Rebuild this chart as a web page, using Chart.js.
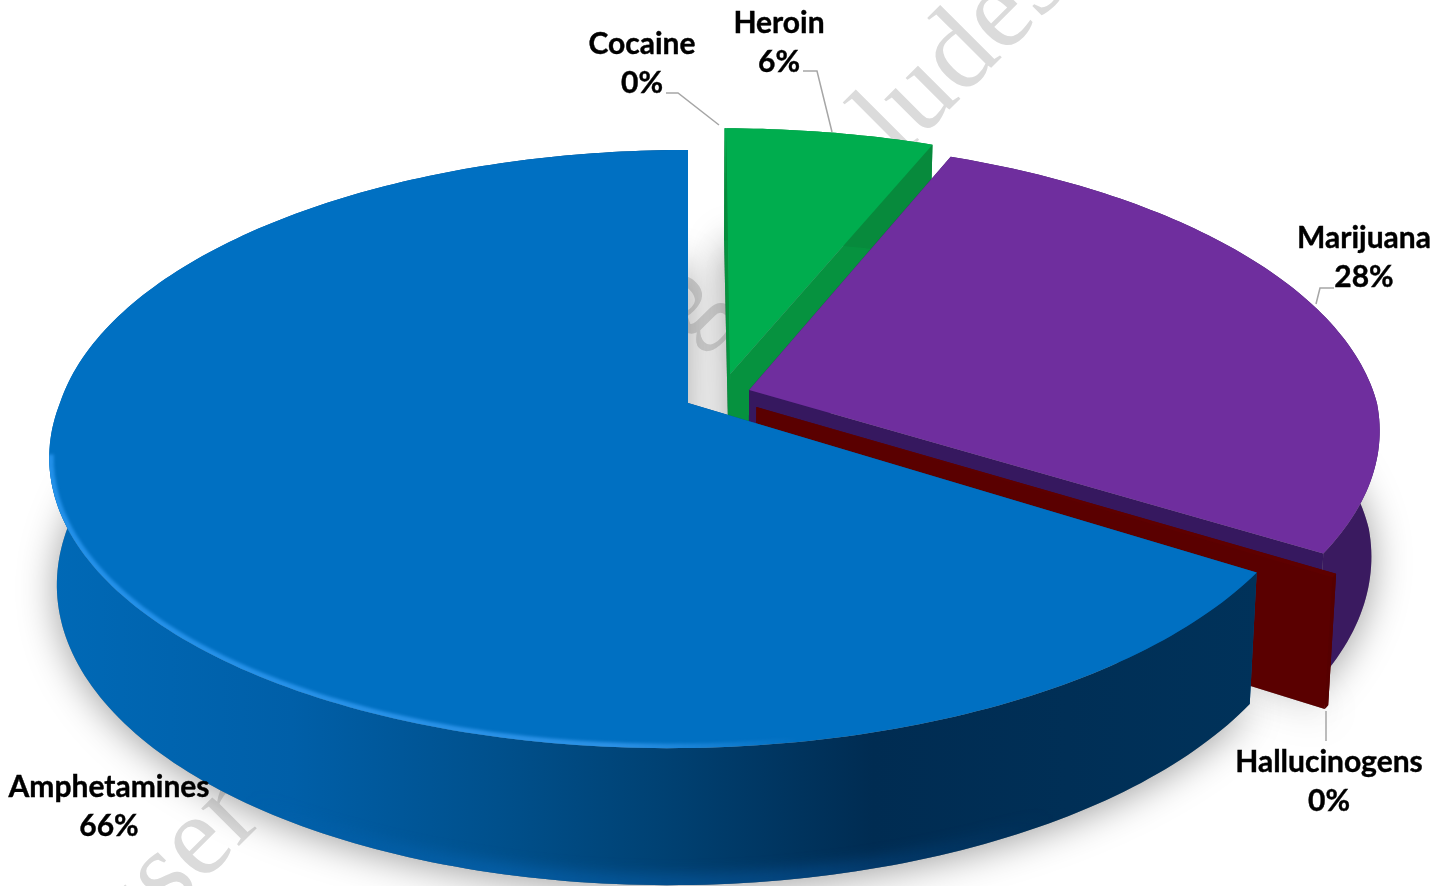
<!DOCTYPE html>
<html>
<head>
<meta charset="utf-8">
<title>Drug share</title>
<script src="https://cdn.jsdelivr.net/npm/chart.js@4"></script>
<style>
html,body{margin:0;padding:0;background:#fff;overflow:hidden}
canvas{display:block}
</style>
</head>
<body>
<canvas id="pie-chart" width="1452" height="886"></canvas>
<script>
// data, clockwise from the top of the pie
const categories = ["Cocaine", "Heroin", "Marijuana", "Hallucinogens", "Amphetamines"];
const shares = [0.05, 6.2, 27.5, 0.2, 66.05];

// looks
const topColors = ["#00AD4E", "#00AD4E", "#6F2E9E", "#5E0000", "#0070C2"];
const cutColors = ["#06923F", "#06923F", "#36185F", "#5A0000", "#00508C"];
const wallColors = ["#078A3C", "#078A3C", "#3A1A60", "#560000", "#00508C"];
const explode = [[0.068,-0.1],[0.068,-0.1],[0.098,-0.045],[0.109,0.014],[0,0]];
const paintOrder = [0,1,2,3,4];
const labelPos = [[642,44],[779,23],[1364,238],[1329,762],[109,787]];
const leaders = [
  [[666,93],[678,93],[719,125]],
  [[803,71],[817,71],[832,132]],
  [[1334,288],[1320,288],[1316,304]],
  [[1326,711],[1326,741]],
  []
];
const watermark = [["user",128,957],["g",687,343],["ludes",898,161]];

// the pie plane seen in perspective: unit circle -> canvas
const cx = 688, cy = 403, a = 628, b = 292, k = 0.154, lean = 19;
function project(u, v, z) {
  let w = 1 - k*v;
  let x = a*u/w - lean*Math.max(v, 0), y = b*v/w;
  if (z) { x = x - 0.012*z*a*u/w; y = y + z*(125 + 12*v); }
  return [cx + x, cy + y];
}
function rimPoints(el, i, z) {
  // chart.js angles start at -PI/2 for the top
  let pts = [];
  let s = el.startAngle + Math.PI/2, e = el.endAngle + Math.PI/2;
  let n = Math.max(2, Math.ceil((e - s)*180/Math.PI));
  for (let j = 0; j <= n; j++) {
    let t = s + (e - s)*j/n;
    pts.push(project(Math.sin(t) + explode[i][0], -Math.cos(t) + explode[i][1], z));
  }
  return pts;
}
function tracePoly(ctx, pts) {
  ctx.beginPath();
  pts.forEach((p, j) => j ? ctx.lineTo(p[0], p[1]) : ctx.moveTo(p[0], p[1]));
  ctx.closePath();
}
function traceLine(ctx, pts) {
  ctx.beginPath();
  pts.forEach((p, j) => j ? ctx.lineTo(p[0], p[1]) : ctx.moveTo(p[0], p[1]));
}
function blueWallGradient(ctx) {
  let g = ctx.createLinearGradient(50, 0, 1260, 0);
  g.addColorStop(0, "#0069B6");
  g.addColorStop(0.2, "#005FA8");
  g.addColorStop(0.37, "#00508C");
  g.addColorStop(0.5, "#004274");
  g.addColorStop(0.68, "#002C52");
  g.addColorStop(1, "#00325A");
  return g;
}

const pie3d = {
  id: "pie3d",
  beforeDraw(chart) {
    const ctx = chart.ctx;
    ctx.save();
    ctx.fillStyle = "#fff";
    ctx.fillRect(0, 0, chart.width, chart.height);
    // faint diagonal text behind the pie
    ctx.fillStyle = "#DBDBDB";
    ctx.font = "116px 'Liberation Serif'";
    ctx.textAlign = "left";
    ctx.textBaseline = "alphabetic";
    watermark.forEach(w => {
      ctx.save();
      ctx.translate(w[1], w[2]);
      ctx.rotate(-Math.PI/4);
      ctx.fillText(w[0], 0, 0);
      ctx.restore();
    });
    ctx.restore();
  },
  beforeDatasetsDraw(chart) {
    const ctx = chart.ctx;
    const arcs = chart.getDatasetMeta(0).data;
    ctx.save();
    // soft shadow under the disc
    ctx.shadowColor = "rgba(0,0,0,0.38)";
    ctx.shadowBlur = 38;
    ctx.shadowOffsetY = 4;
    ctx.fillStyle = "#888";
    paintOrder.forEach(i => {
      let rim = rimPoints(arcs[i], i, 1);
      tracePoly(ctx, [project(explode[i][0], explode[i][1], 1)].concat(rim));
      ctx.fill();
    });
    ctx.restore();

    paintOrder.forEach(i => {
      let el = arcs[i];
      let rim0 = rimPoints(el, i, 0), rim1 = rimPoints(el, i, 1);
      let apex0 = project(explode[i][0], explode[i][1], 0);
      let apex1 = project(explode[i][0], explode[i][1], 1);
      let last = rim0.length - 1;
      ctx.save();
      // cut faces
      ctx.fillStyle = cutColors[i];
      tracePoly(ctx, [apex0, rim0[0], rim1[0], apex1]);
      ctx.fill();
      tracePoly(ctx, [apex0, rim0[last], rim1[last], apex1]);
      ctx.fill();
      // outer wall
      ctx.fillStyle = (i == 4) ? blueWallGradient(ctx) : wallColors[i];
      let wall = rim0.concat(rim1.slice().reverse());
      tracePoly(ctx, wall);
      ctx.fill();
      if (i == 4) {
        // lighter lower edge of the big wall, only on the front
        ctx.save();
        tracePoly(ctx, wall);
        ctx.clip();
        let g2 = ctx.createLinearGradient(250, 0, 1050, 0);
        g2.addColorStop(0, "rgba(10,110,195,0)");
        g2.addColorStop(0.3, "rgba(10,110,195,0.45)");
        g2.addColorStop(0.7, "rgba(10,100,185,0.35)");
        g2.addColorStop(1, "rgba(10,100,185,0)");
        ctx.strokeStyle = g2;
        ctx.filter = "blur(7px)";
        ctx.lineWidth = 22;
        traceLine(ctx, rim1);
        ctx.stroke();
        ctx.restore();
      }
      // top
      ctx.fillStyle = topColors[i];
      let face = [apex0].concat(rim0);
      tracePoly(ctx, face);
      ctx.fill();
      if (i == 4) {
        // bevel highlight along the front-left rim
        ctx.save();
        tracePoly(ctx, face);
        ctx.clip();
        let g = ctx.createLinearGradient(50, 0, 800, 0);
        g.addColorStop(0, "rgba(40,150,240,0.85)");
        g.addColorStop(0.75, "rgba(50,150,235,0.85)");
        g.addColorStop(1, "rgba(50,150,235,0)");
        ctx.strokeStyle = g;
        ctx.lineWidth = 9;
        ctx.filter = "blur(1.5px)";
        let part = rim0.filter(p => p[0] < 800 && p[1] > 450);
        traceLine(ctx, part);
        ctx.stroke();
        ctx.restore();
      }
      ctx.restore();
    });
    return false;
  },
  afterDraw(chart) {
    const ctx = chart.ctx;
    ctx.save();
    ctx.strokeStyle = "#A6A6A6";
    ctx.lineWidth = 1.5;
    leaders.forEach(l => {
      if (!l.length) return;
      traceLine(ctx, l);
      ctx.stroke();
    });
    ctx.fillStyle = "#000";
    ctx.strokeStyle = "#000";
    ctx.lineWidth = 0.4;
    ctx.font = "bold 30px Lato";
    ctx.textAlign = "center";
    ctx.textBaseline = "middle";
    categories.forEach((c, i) => {
      let pct = Math.round(shares[i]) + "%";
      ctx.fillText(c, labelPos[i][0], labelPos[i][1]);
      ctx.strokeText(c, labelPos[i][0], labelPos[i][1]);
      ctx.fillText(pct, labelPos[i][0], labelPos[i][1] + 39);
      ctx.strokeText(pct, labelPos[i][0], labelPos[i][1] + 39);
    });
    ctx.restore();
  }
};

new Chart(document.getElementById("pie-chart"), {
  type: "pie",
  data: {
    labels: categories,
    datasets: [{ data: shares, backgroundColor: topColors, borderWidth: 0 }]
  },
  options: {
    responsive: false,
    animation: false,
    plugins: { legend: { display: false }, tooltip: { enabled: false } }
  },
  plugins: [pie3d]
});
</script>
</body>
</html>
